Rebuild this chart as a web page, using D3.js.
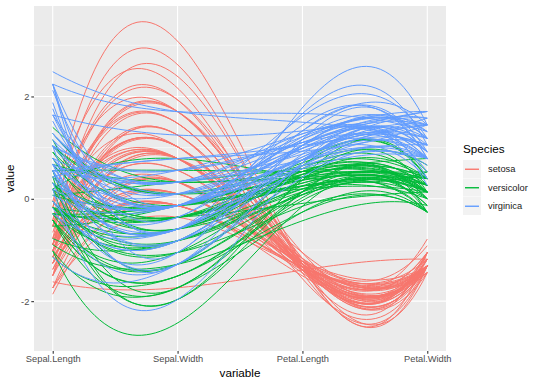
<!DOCTYPE html>
<html>
<head>
<meta charset="utf-8">
<script src="https://cdn.jsdelivr.net/npm/d3@7"></script>
<style>
  body { margin: 0; background: #fff; }
  text { font-family: "Liberation Sans", Arial, sans-serif; }
</style>
</head>
<body>
<div id="chart"></div>
<script>
var svgWidth = 540;
var svgHeight = 386;

// panel box
var margin = { top: 6, right: 94, bottom: 35, left: 34 };
var width = svgWidth - margin.left - margin.right;
var height = svgHeight - margin.top - margin.bottom;

// iris measurements, row order 1..150
var sepalLength = [5.1,4.9,4.7,4.6,5.0,5.4,4.6,5.0,4.4,4.9,5.4,4.8,4.8,4.3,5.8,5.7,5.4,5.1,5.7,5.1,5.4,5.1,4.6,5.1,4.8,5.0,5.0,5.2,5.2,4.7,4.8,5.4,5.2,5.5,4.9,5.0,5.5,4.9,4.4,5.1,5.0,4.5,4.4,5.0,5.1,4.8,5.1,4.6,5.3,5.0,
  7.0,6.4,6.9,5.5,6.5,5.7,6.3,4.9,6.6,5.2,5.0,5.9,6.0,6.1,5.6,6.7,5.6,5.8,6.2,5.6,5.9,6.1,6.3,6.1,6.4,6.6,6.8,6.7,6.0,5.7,5.5,5.5,5.8,6.0,5.4,6.0,6.7,6.3,5.6,5.5,5.5,6.1,5.8,5.0,5.6,5.7,5.7,6.2,5.1,5.7,
  6.3,5.8,7.1,6.3,6.5,7.6,4.9,7.3,6.7,7.2,6.5,6.4,6.8,5.7,5.8,6.4,6.5,7.7,7.7,6.0,6.9,5.6,7.7,6.3,6.7,7.2,6.2,6.1,6.4,7.2,7.4,7.9,6.4,6.3,6.1,7.7,6.3,6.4,6.0,6.9,6.7,6.9,5.8,6.8,6.7,6.7,6.3,6.5,6.2,5.9];
var sepalWidth = [3.5,3.0,3.2,3.1,3.6,3.9,3.4,3.4,2.9,3.1,3.7,3.4,3.0,3.0,4.0,4.4,3.9,3.5,3.8,3.8,3.4,3.7,3.6,3.3,3.4,3.0,3.4,3.5,3.4,3.2,3.1,3.4,4.1,4.2,3.1,3.2,3.5,3.6,3.0,3.4,3.5,2.3,3.2,3.5,3.8,3.0,3.8,3.2,3.7,3.3,
  3.2,3.2,3.1,2.3,2.8,2.8,3.3,2.4,2.9,2.7,2.0,3.0,2.2,2.9,2.9,3.1,3.0,2.7,2.2,2.5,3.2,2.8,2.5,2.8,2.9,3.0,2.8,3.0,2.9,2.6,2.4,2.4,2.7,2.7,3.0,3.4,3.1,2.3,3.0,2.5,2.6,3.0,2.6,2.3,2.7,3.0,2.9,2.9,2.5,2.8,
  3.3,2.7,3.0,2.9,3.0,3.0,2.5,2.9,2.5,3.6,3.2,2.7,3.0,2.5,2.8,3.2,3.0,3.8,2.6,2.2,3.2,2.8,2.8,2.7,3.3,3.2,2.8,3.0,2.8,3.0,2.8,3.8,2.8,2.8,2.6,3.0,3.4,3.1,3.0,3.1,3.1,3.1,2.7,3.2,3.3,3.0,2.5,3.0,3.4,3.0];
var petalLength = [1.4,1.4,1.3,1.5,1.4,1.7,1.4,1.5,1.4,1.5,1.5,1.6,1.4,1.1,1.2,1.5,1.3,1.4,1.7,1.5,1.7,1.5,1.0,1.7,1.9,1.6,1.6,1.5,1.4,1.6,1.6,1.5,1.5,1.4,1.5,1.2,1.3,1.4,1.3,1.5,1.3,1.3,1.3,1.6,1.9,1.4,1.6,1.4,1.5,1.4,
  4.7,4.5,4.9,4.0,4.6,4.5,4.7,3.3,4.6,3.9,3.5,4.2,4.0,4.7,3.6,4.4,4.5,4.1,4.5,3.9,4.8,4.0,4.9,4.7,4.3,4.4,4.8,5.0,4.5,3.5,3.8,3.7,3.9,5.1,4.5,4.5,4.7,4.4,4.1,4.0,4.4,4.6,4.0,3.3,4.2,4.2,4.2,4.3,3.0,4.1,
  6.0,5.1,5.9,5.6,5.8,6.6,4.5,6.3,5.8,6.1,5.1,5.3,5.5,5.0,5.1,5.3,5.5,6.7,6.9,5.0,5.7,4.9,6.7,4.9,5.7,6.0,4.8,4.9,5.6,5.8,6.1,6.4,5.6,5.1,5.6,6.1,5.6,5.5,4.8,5.4,5.6,5.1,5.1,5.9,5.7,5.2,5.0,5.2,5.4,5.1];
var petalWidth = [0.2,0.2,0.2,0.2,0.2,0.4,0.3,0.2,0.2,0.1,0.2,0.2,0.1,0.1,0.2,0.4,0.4,0.3,0.3,0.3,0.2,0.4,0.2,0.5,0.2,0.2,0.4,0.2,0.2,0.2,0.2,0.4,0.1,0.2,0.2,0.2,0.2,0.1,0.2,0.2,0.3,0.3,0.2,0.6,0.4,0.3,0.2,0.2,0.2,0.2,
  1.4,1.5,1.5,1.3,1.5,1.3,1.6,1.0,1.3,1.4,1.0,1.5,1.0,1.4,1.3,1.4,1.5,1.0,1.5,1.1,1.8,1.3,1.5,1.2,1.3,1.4,1.4,1.7,1.5,1.0,1.1,1.0,1.2,1.6,1.5,1.6,1.5,1.3,1.3,1.3,1.2,1.4,1.2,1.0,1.3,1.2,1.3,1.3,1.1,1.3,
  2.5,1.9,2.1,1.8,2.2,2.1,1.7,1.8,1.8,2.5,2.0,1.9,2.1,2.0,2.4,2.3,1.8,2.2,2.3,1.5,2.3,2.0,2.0,1.8,2.1,1.8,1.8,1.8,2.1,1.6,1.9,2.0,2.2,1.5,1.4,2.3,2.4,1.8,1.8,2.1,2.4,2.3,1.9,2.3,2.5,2.3,1.9,2.0,2.3,1.8];

var speciesNames = ["setosa", "versicolor", "virginica"];
var speciesColors = ["#F8766D", "#00BA38", "#619CFF"];
var species = [].concat(
  Array(50).fill("setosa"),
  Array(50).fill("versicolor"),
  Array(50).fill("virginica"));

var variables = ["Sepal.Length", "Sepal.Width", "Petal.Length", "Petal.Width"];
var yTicks = [-2, 0, 2];
var yMinor = [-3, -1, 1, 3];

// standardise each column like ggparcoord(scale = "std")
var columns = [sepalLength, sepalWidth, petalLength, petalWidth];
var scaled = columns.map(function(col) {
  var m = d3.mean(col), s = d3.deviation(col);
  return col.map(function(v) { return (v - m) / s; });
});

var rows = species.map(function(sp, i) {
  return { species: sp, values: scaled.map(function(col) { return col[i]; }) };
});

// interpolating cubic through the points (R's spline() with 4 knots)
function lagrange(xs, ys, t) {
  var sum = 0;
  for (var i = 0; i < xs.length; i++) {
    var term = ys[i];
    for (var j = 0; j < xs.length; j++) {
      if (j != i) term *= (t - xs[j]) / (xs[i] - xs[j]);
    }
    sum += term;
  }
  return sum;
}

var STEPS = 80;

function CubicCurve(context) { this._context = context; }
CubicCurve.prototype = {
  areaStart: function() {},
  areaEnd: function() {},
  lineStart: function() { this._x = []; this._y = []; },
  point: function(x, y) { this._x.push(+x); this._y.push(+y); },
  lineEnd: function() {
    var xs = this._x, ys = this._y, n = xs.length;
    for (var k = 0; k <= STEPS; k++) {
      var t = xs[0] + (xs[n - 1] - xs[0]) * k / STEPS;
      var y = lagrange(xs, ys, t);
      if (k == 0) this._context.moveTo(t, y);
      else this._context.lineTo(t, y);
    }
  }
};
var curveCubic = function(context) { return new CubicCurve(context); };

// y extent of the drawn curves
var pos = [1, 2, 3, 4];
var lo = Infinity, hi = -Infinity;
rows.forEach(function(r) {
  for (var k = 0; k <= STEPS; k++) {
    var v = lagrange(pos, r.values, 1 + 3 * k / STEPS);
    if (v < lo) lo = v;
    if (v > hi) hi = v;
  }
});
var pad = (hi - lo) * 0.05;

var x = d3.scaleLinear().domain([0.85, 4.15]).range([0, width]);
var y = d3.scaleLinear().domain([lo - pad, hi + pad]).range([height, 0]);
var color = d3.scaleOrdinal().domain(speciesNames).range(speciesColors);

var svg = d3.select("#chart")
  .append("svg")
  .attr("width", svgWidth)
  .attr("height", svgHeight);

svg.append("rect").attr("width", svgWidth).attr("height", svgHeight).attr("fill", "#fff");

var g = svg.append("g").attr("transform", "translate(" + margin.left + "," + margin.top + ")");

g.append("rect").attr("width", width).attr("height", height).attr("fill", "#EBEBEB");

// grid
g.selectAll(".yminor")
  .data(yMinor.filter(function(d) { return y(d) >= 0 && y(d) <= height; }))
  .enter().append("line")
  .attr("x1", 0).attr("x2", width)
  .attr("y1", d => y(d)).attr("y2", d => y(d))
  .attr("stroke", "#fff").attr("stroke-width", 0.55);

g.selectAll(".ymajor")
  .data(yTicks)
  .enter().append("line")
  .attr("x1", 0).attr("x2", width)
  .attr("y1", d => y(d)).attr("y2", d => y(d))
  .attr("stroke", "#fff").attr("stroke-width", 1.1);

g.selectAll(".xmajor")
  .data(pos)
  .enter().append("line")
  .attr("y1", 0).attr("y2", height)
  .attr("x1", d => x(d)).attr("x2", d => x(d))
  .attr("stroke", "#fff").attr("stroke-width", 1.1);

// lines
var line = d3.line()
  .x(function(d, i) { return x(pos[i]); })
  .y(function(d) { return y(d); })
  .curve(curveCubic);

g.append("g")
  .selectAll("path")
  .data(rows)
  .enter().append("path")
  .attr("d", d => line(d.values))
  .attr("fill", "none")
  .attr("stroke", d => color(d.species))
  .attr("stroke-width", 1);

// axes
var yAxis = g.append("g")
  .call(d3.axisLeft(y).tickValues(yTicks).tickSize(2.7).tickPadding(2).tickFormat(d => String(d)));
var xAxis = g.append("g")
  .attr("transform", "translate(0," + height + ")")
  .call(d3.axisBottom(x).tickValues(pos).tickSize(2.7).tickPadding(2).tickFormat(d => variables[d - 1]));

[yAxis, xAxis].forEach(function(a) {
  a.select(".domain").remove();
  a.selectAll(".tick line").attr("stroke", "#333").attr("stroke-width", 1.1);
  a.selectAll(".tick text").attr("fill", "#4D4D4D").style("font-size", "9.3px");
});

svg.append("text")
  .attr("x", margin.left + width / 2)
  .attr("y", 377)
  .attr("text-anchor", "middle")
  .style("font-size", "11.7px")
  .text("variable");

svg.append("text")
  .attr("transform", "translate(14," + (margin.top + height / 2) + ") rotate(-90)")
  .attr("text-anchor", "middle")
  .style("font-size", "11.7px")
  .text("value");

// legend
var legend = svg.append("g").attr("transform", "translate(463,0)");
legend.append("text")
  .attr("x", 0).attr("y", 153)
  .style("font-size", "11.7px")
  .text("Species");

var keys = legend.selectAll(".key")
  .data(speciesNames)
  .enter().append("g")
  .attr("class", "key")
  .attr("transform", (d, i) => "translate(0," + (160 + i * 18.5) + ")");

keys.append("rect")
  .attr("width", 18).attr("height", 18)
  .attr("fill", "#F2F2F2");
keys.append("line")
  .attr("x1", 2).attr("x2", 16)
  .attr("y1", 9.25).attr("y2", 9.25)
  .attr("stroke", (d, i) => speciesColors[i])
  .attr("stroke-width", 1.4);
keys.append("text")
  .attr("x", 25).attr("y", 12.3)
  .style("font-size", "9.3px")
  .attr("fill", "#1A1A1A")
  .text(d => d);
</script>
</body>
</html>
